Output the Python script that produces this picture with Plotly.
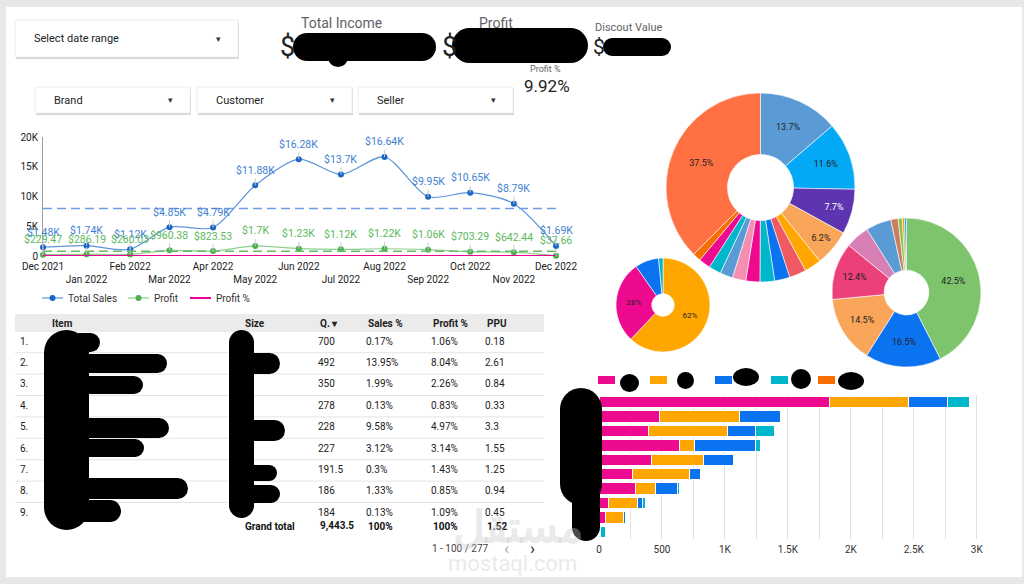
import numpy as np
import plotly.graph_objects as go

W, H = 1024, 584
FONT = "Roboto"

# ------------------------------------------------------------------ data
months = ['2021-12-01', '2022-01-01', '2022-02-01', '2022-03-01', '2022-04-01',
          '2022-05-01', '2022-06-01', '2022-07-01', '2022-08-01', '2022-09-01',
          '2022-10-01', '2022-11-01', '2022-12-01']
month_labels = ['Dec 2021', 'Jan 2022', 'Feb 2022', 'Mar 2022', 'Apr 2022', 'May 2022',
                'Jun 2022', 'Jul 2022', 'Aug 2022', 'Sep 2022', 'Oct 2022', 'Nov 2022',
                'Dec 2022']
total_sales = [1480, 1740, 1120, 4850, 4790, 11880, 16280, 13700, 16640, 9950, 10650, 8790, 1690]
profit = [229.47, 286.19, 260.03, 960.38, 823.53, 1700, 1230, 1120, 1220, 1060, 703.29, 642.44, 37.66]
profit_pct = [0.155, 0.164, 0.232, 0.198, 0.172, 0.143, 0.076, 0.082, 0.073, 0.107, 0.066, 0.073, 0.022]
series_names = ['Total Sales', 'Profit', 'Profit %']
y_ticks = [0, 5000, 10000, 15000, 20000]
y_tick_labels = ['0', '5K', '10K', '15K', '20K']

table_rank = [1, 2, 3, 4, 5, 6, 7, 8, 9]
table_qty = [700, 492, 350, 278, 228, 227, 191.5, 186, 184]
table_sales_pct = [0.17, 13.95, 1.99, 0.13, 9.58, 3.12, 0.3, 1.33, 0.13]
table_profit_pct = [1.06, 8.04, 2.26, 0.83, 4.97, 3.14, 1.43, 0.85, 1.09]
table_ppu = [0.18, 2.61, 0.84, 0.33, 3.3, 1.55, 1.25, 0.94, 0.45]
table_headers = ['Item', 'Size', 'Q. \u25be', 'Sales %', 'Profit %', 'PPU']
grand_total = ['Grand total', '9,443.5', '100%', '100%', '1.52']
pagination = '1 - 100 / 277'

big_pie_values = [13.7, 11.6, 7.7, 6.2, 2.9, 2.9, 2.6, 2.5, 2.4, 2.3, 2.2, 2.1, 2.0, 1.4, 37.5]
big_pie_colors = ['#5b9bd5', '#03a9f4', '#5e35b1', '#f9a65a', '#ffa600', '#ef5a62', '#0b72f0',
                  '#00b6cb', '#ee0a8f', '#f48fb1', '#5b9bd5', '#00b6cb', '#ee0a8f', '#f66d00',
                  '#ff7043']
small_pie_values = [62, 28.3, 8.2, 1.5]
small_pie_colors = ['#ffa600', '#ee0a8f', '#0b72f0', '#00b6cb']
right_pie_values = [42.5, 16.5, 14.5, 12.4, 5.2, 5.5, 1.6, 0.9, 0.5, 0.4]
right_pie_colors = ['#7dc46d', '#0b72f0', '#f9a65a', '#ec407a', '#d87fb6', '#5b9bd5',
                    '#c9805f', '#8bc34a', '#ff9800', '#03a9f4']

bar_rows = ['Item %d' % i for i in range(1, 11)]
bar_s1 = [1828, 479, 397, 643, 413, 265, 288, 74, 48, 11]
bar_s2 = [632, 637, 624, 114, 415, 457, 162, 233, 150, 0]
bar_s3 = [307, 323, 220, 484, 241, 85, 172, 42, 11, 0]
bar_s4 = [172, 0, 153, 45, 0, 0, 16, 19, 0, 42]
bar_s5 = [0, 0, 0, 0, 0, 0, 0, 0, 0, 0]
bar_ticks = [0, 500, 1000, 1500, 2000, 2500, 3000]
bar_tick_labels = ['0', '500', '1K', '1.5K', '2K', '2.5K', '3K']

MAG, ORG, BLU, TEA, DOR = '#ee0a8f', '#ffa600', '#0b72f0', '#00b6cb', '#f66d00'
SALES_LINE, SALES_MK, SALES_TXT = '#5c94dc', '#1a66c8', '#3f7fd1'
PROF_LINE, PROF_MK, PROF_TXT = '#8ccf8c', '#4caf50', '#5cb85c'
PCT_LINE = '#f10096'


# ------------------------------------------------------------------ helpers
def PX(x):
    return x / W


def PY(y):
    return 1 - y / H


shapes = []
annotations = []


def rect(x0, y0, x1, y1, fill, line=None, layer='below', lw=1):
    shapes.append(dict(type='rect', xref='paper', yref='paper', x0=PX(x0), x1=PX(x1),
                       y0=PY(y1), y1=PY(y0), fillcolor=fill, layer=layer,
                       line=dict(color=line or fill, width=lw if line else 0)))


def ellipse(x0, y0, x1, y1, fill='black', layer='above'):
    shapes.append(dict(type='circle', xref='paper', yref='paper', x0=PX(x0), x1=PX(x1),
                       y0=PY(y1), y1=PY(y0), fillcolor=fill, layer=layer,
                       line=dict(width=0)))


def hline(x0, x1, y, color, width=1, layer='above'):
    shapes.append(dict(type='line', xref='paper', yref='paper', x0=PX(x0), x1=PX(x1),
                       y0=PY(y), y1=PY(y), layer=layer, line=dict(color=color, width=width)))


def cap_h(x0, y0, x1, y1):
    r = (y1 - y0) / 2
    rect(x0 + r, y0, x1 - r, y1, 'black', layer='above')
    ellipse(x0, y0, x0 + 2 * r, y1)
    ellipse(x1 - 2 * r, y0, x1, y1)


def cap_v(x0, y0, x1, y1):
    r = (x1 - x0) / 2
    rect(x0, y0 + r, x1, y1 - r, 'black', layer='above')
    ellipse(x0, y0, x1, y0 + 2 * r)
    ellipse(x0, y1 - 2 * r, x1, y1)


def text(x, y, s, size=10, color='#222', xanchor='left', bold=False):
    if bold:
        s = '<b>%s</b>' % s
    annotations.append(dict(x=PX(x), y=PY(y), xref='paper', yref='paper', text=s,
                            showarrow=False, xanchor=xanchor, yanchor='middle',
                            font=dict(family=FONT, size=size, color=color)))


def kfmt(v):
    if v >= 1000:
        return '$' + ('%.2f' % (v / 1000)).rstrip('0').rstrip('.') + 'K'
    return '$%.2f' % v


# ------------------------------------------------------------------ background
rect(6, 7, 1022, 577, 'white')

# dropdown controls
for (x0, y0, x1, y1, label) in [(15, 20, 238, 57, 'Select date range'),
                                (35, 87, 190, 113, 'Brand'),
                                (197, 87, 352, 113, 'Customer'),
                                (358, 87, 513, 113, 'Seller')]:
    rect(x0 + 1, y0 + 2, x1 + 1, y1 + 2, '#d4d4d4')
    rect(x0, y0, x1, y1, 'white', line='#eeeeee')
    text(x0 + 17, (y0 + y1) / 2, label, size=11, color='#222')
    text(x1 - 20, (y0 + y1) / 2, '\u25be', size=9, color='#333', xanchor='center')

# KPIs
text(341, 23, 'Total Income', size=14, color='#5f6368', xanchor='center')
text(287, 47, '$', size=27, color='#222', xanchor='center')
text(496, 23, 'Profit', size=14, color='#5f6368', xanchor='center')
text(449, 47, '$', size=27, color='#222', xanchor='center')
text(593, 28, 'Discout Value', size=11, color='#5f6368')
text(599, 47, '$', size=21, color='#222', xanchor='center')
text(545, 69, 'Profit %', size=9, color='#5f6368', xanchor='center')
text(547, 86, '9.92%', size=17, color='#222', xanchor='center')
cap_h(293, 33, 436, 61)
ellipse(328, 48, 348, 67)
cap_h(452, 28, 588, 63)
cap_h(603, 38, 671, 56)

# ------------------------------------------------------------------ line chart
fig = go.Figure()
fig.add_trace(go.Scatter(x=months, y=total_sales, name=series_names[0], mode='lines+markers',
                         line=dict(color=SALES_LINE, width=1.2, shape='spline', smoothing=0.8),
                         marker=dict(color=SALES_MK, size=6), cliponaxis=False,
                         showlegend=False, xaxis='x', yaxis='y', hoverinfo='skip'))
fig.add_trace(go.Scatter(x=months, y=profit, name=series_names[1], mode='lines+markers',
                         line=dict(color=PROF_LINE, width=1.2, shape='spline', smoothing=0.8),
                         marker=dict(color=PROF_MK, size=6), cliponaxis=False,
                         showlegend=False, xaxis='x', yaxis='y', hoverinfo='skip'))
fig.add_trace(go.Scatter(x=months, y=profit_pct, name=series_names[2], mode='lines',
                         line=dict(color=PCT_LINE, width=2), cliponaxis=False,
                         showlegend=False, xaxis='x', yaxis='y', hoverinfo='skip'))
fig.add_trace(go.Scatter(x=[months[0], months[-1]], y=[np.mean(total_sales)] * 2, mode='lines',
                         line=dict(color='#6f9fe3', width=1.5, dash='9px,5px'),
                         showlegend=False, xaxis='x', yaxis='y', hoverinfo='skip'))
fig.add_trace(go.Scatter(x=[months[0], months[-1]], y=[np.mean(profit)] * 2, mode='lines',
                         line=dict(color='#66bb6a', width=1.5, dash='9px,5px'),
                         showlegend=False, xaxis='x', yaxis='y', hoverinfo='skip'))

for m, s, p in zip(months, total_sales, profit):
    annotations.append(dict(x=m, y=s, xref='x', yref='y', text=kfmt(s), showarrow=True,
                            arrowhead=0, arrowwidth=1, arrowcolor='#cccccc', ax=0, ay=-15,
                            font=dict(family=FONT, size=10.5, color=SALES_TXT)))
    annotations.append(dict(x=m, y=p, xref='x', yref='y', text=kfmt(p), showarrow=True,
                            arrowhead=0, arrowwidth=1, arrowcolor='#cccccc', ax=0, ay=-15,
                            font=dict(family=FONT, size=10.5, color=PROF_TXT)))

# manual legend of the line chart
for (lx, name, lc, mc, lw) in [(42, series_names[0], SALES_LINE, SALES_MK, 1.2),
                               (128, series_names[1], PROF_LINE, PROF_MK, 1.2),
                               (190, series_names[2], PCT_LINE, None, 2)]:
    hline(lx, lx + 21, 298, lc, width=lw)
    if mc:
        ellipse(lx + 7.5, 295, lx + 13.5, 301, fill=mc)
    text(lx + 24, 298, name, size=10, color='#333')

# ------------------------------------------------------------------ table
row_top = 332
row_first = 342
row_pitch = 21.4
clip_bottom = 516
rect(15, 314, 544, 332, '#ebebeb')
header_x = [50, 243, 318, 366, 431, 485]
for hx, h in zip(header_x, table_headers):
    text(hx, 323, h, size=10, color='#222', bold=True)

y3_top = 1 - (row_first - row_top) / row_pitch
y3_bot = 1 + (clip_bottom - row_first) / row_pitch

table_cols = [
    (20, ['%d.' % r for r in table_rank]),
    (318, ['%g' % q for q in table_qty]),
    (366, ['%g%%' % v for v in table_sales_pct]),
    (431, ['%g%%' % v for v in table_profit_pct]),
    (485, ['%g' % v for v in table_ppu]),
]
for cx, vals in table_cols:
    fig.add_trace(go.Scatter(x=[cx] * len(vals), y=table_rank, text=vals, mode='text',
                             textposition='middle right', cliponaxis=True,
                             textfont=dict(family=FONT, size=10, color='#222'),
                             showlegend=False, hoverinfo='skip', xaxis='x3', yaxis='y3'))
for r in table_rank[:-1]:
    shapes.append(dict(type='line', xref='paper', yref='y3', x0=PX(15), x1=PX(544),
                       y0=r + 0.5, y1=r + 0.5, line=dict(color='#e4e4e4', width=1),
                       layer='below'))
# the scroll area of the table cuts the 9th row
rect(15, clip_bottom, 544, 521, 'white', layer='above')

for gx, g in zip([243, 318, 366, 431, 485], grand_total):
    text(gx, 526, g, size=10, color='#111', bold=True)
text(460, 548, pagination, size=10, color='#444', xanchor='center')
text(506, 548, '\u2039', size=17, color='#aaaaaa', xanchor='center')
text(532, 548, '\u203a', size=17, color='#222', xanchor='center')

# redaction blobs in table
cap_v(44, 330, 89, 530)
for (a, b, c, d) in [(70, 333, 100, 352), (70, 354, 167, 373), (70, 376, 143, 394),
                     (70, 418, 169, 438), (70, 439, 144, 457), (70, 478, 188, 499),
                     (70, 500, 121, 522)]:
    cap_h(a, b, c, d)
cap_v(229, 330, 254, 518)
for (a, b, c, d) in [(232, 333, 250, 353), (240, 353, 280, 374), (240, 420, 285, 441),
                     (240, 465, 277, 481), (240, 485, 280, 503)]:
    cap_h(a, b, c, d)

# ------------------------------------------------------------------ pies
big_text = ['%g%%' % v if v >= 6 else '' for v in big_pie_values]
big_text_col = ['white' if c == '#5e35b1' else '#222' for c in big_pie_colors]
fig.add_trace(go.Pie(values=big_pie_values, marker=dict(colors=big_pie_colors,
                     line=dict(color='white', width=0.6)),
                     sort=False, direction='clockwise', rotation=0, hole=0.35,
                     text=big_text, textinfo='text', textposition='inside',
                     insidetextorientation='horizontal',
                     textfont=dict(family=FONT, size=9, color=big_text_col),
                     domain=dict(x=[PX(666), PX(855)], y=[PY(282), PY(93)]),
                     showlegend=False, hoverinfo='skip'))
fig.add_trace(go.Pie(values=small_pie_values, marker=dict(colors=small_pie_colors,
                     line=dict(color='white', width=0.6)),
                     sort=False, direction='clockwise', rotation=0, hole=0.24,
                     text=['%.0f%%' % v if v >= 20 else '' for v in small_pie_values],
                     textinfo='text', textposition='inside', insidetextorientation='horizontal',
                     textfont=dict(family=FONT, size=8, color='#222'),
                     domain=dict(x=[PX(616), PX(710)], y=[PY(352), PY(258)]),
                     showlegend=False, hoverinfo='skip'))
fig.add_trace(go.Pie(values=right_pie_values, marker=dict(colors=right_pie_colors,
                     line=dict(color='white', width=0.6)),
                     sort=False, direction='clockwise', rotation=0, hole=0.3,
                     text=['%g%%' % v if v >= 10 else '' for v in right_pie_values],
                     textinfo='text', textposition='inside', insidetextorientation='horizontal',
                     textfont=dict(family=FONT, size=9, color='#222'),
                     domain=dict(x=[PX(832), PX(981)], y=[PY(367), PY(218)]),
                     showlegend=False, hoverinfo='skip'))

# ------------------------------------------------------------------ stacked bars
for vals, col in [(bar_s1, MAG), (bar_s2, ORG), (bar_s3, BLU), (bar_s4, TEA), (bar_s5, DOR)]:
    fig.add_trace(go.Bar(y=bar_rows, x=vals, orientation='h', marker=dict(color=col,
                         line=dict(color='white', width=1)), showlegend=False,
                         hoverinfo='skip', xaxis='x2', yaxis='y2'))

# bar legend
for (x0, x1, col) in [(598, 615, MAG), (650, 667, ORG), (715, 732, BLU), (771, 788, TEA),
                      (818, 835, DOR)]:
    rect(x0, 376, x1, 384, col, layer='above')
for (a, b, c, d) in [(620, 374, 639, 392), (677, 372, 694, 389), (733, 368, 759, 386),
                     (791, 369, 811, 389), (838, 372, 864, 390)]:
    ellipse(a, b, c, d)
# redacted category labels
cap_v(560, 388, 602, 505)
cap_v(572, 420, 600, 541)

# watermark
text(518, 527, '\u0645\u0633\u062a\u0642\u0644', size=44, color='rgba(200,200,200,0.4)',
     xanchor='center', bold=True)
text(512, 563, 'mostaql.com', size=22, color='rgba(200,200,200,0.4)', xanchor='center')

# ------------------------------------------------------------------ layout
tick_text = [lbl if i % 2 == 0 else '<br>' + lbl for i, lbl in enumerate(month_labels)]
fig.update_layout(
    width=W, height=H, margin=dict(l=0, r=0, t=0, b=0, pad=0, autoexpand=False),
    paper_bgcolor='#e8e8e8', plot_bgcolor='rgba(0,0,0,0)',
    font=dict(family=FONT, size=10, color='#222'),
    barmode='stack', bargap=0.22, showlegend=False,
    xaxis=dict(domain=[PX(43), PX(556)], type='date', range=[months[0], months[-1]],
               tickvals=months, ticktext=tick_text, tickangle=0, showgrid=False,
               zeroline=False, showline=False, ticks='', tickfont=dict(size=10, color='#222'),
               ticklabelstandoff=3, automargin=False, fixedrange=True),
    yaxis=dict(domain=[PY(256), PY(137)], range=[0, 20000], tickvals=y_ticks,
               ticktext=y_tick_labels, showgrid=False, zeroline=False, showline=True,
               linecolor='#9e9e9e', linewidth=1, ticks='', automargin=False,
               ticklabelstandoff=2, tickfont=dict(size=10, color='#222')),
    xaxis2=dict(domain=[PX(599), PX(978)], range=[0, 3010], anchor='y2', tickvals=bar_ticks,
                ticktext=bar_tick_labels, tickangle=0, showgrid=True, gridcolor='#e0e0e0',
                zeroline=False, minor=dict(dtick=250, showgrid=True, gridcolor='#e0e0e0'),
                ticks='', tickfont=dict(size=10, color='#333'), showline=False,
                ticklabelstandoff=3, automargin=False),
    yaxis2=dict(domain=[PY(539), PY(395)], anchor='x2', autorange='reversed',
                showticklabels=False, showgrid=False, zeroline=False, ticks='',
                automargin=False),
    xaxis3=dict(domain=[PX(15), PX(544)], range=[15, 544], anchor='y3', visible=False,
                automargin=False),
    yaxis3=dict(domain=[PY(clip_bottom), PY(row_top)], range=[y3_bot, y3_top], anchor='x3',
                visible=False, automargin=False),
    shapes=shapes, annotations=annotations,
)

fig.write_html('out.html',
               post_script="document.body.style.margin='0px';"
                           "document.body.style.overflow='hidden';")
